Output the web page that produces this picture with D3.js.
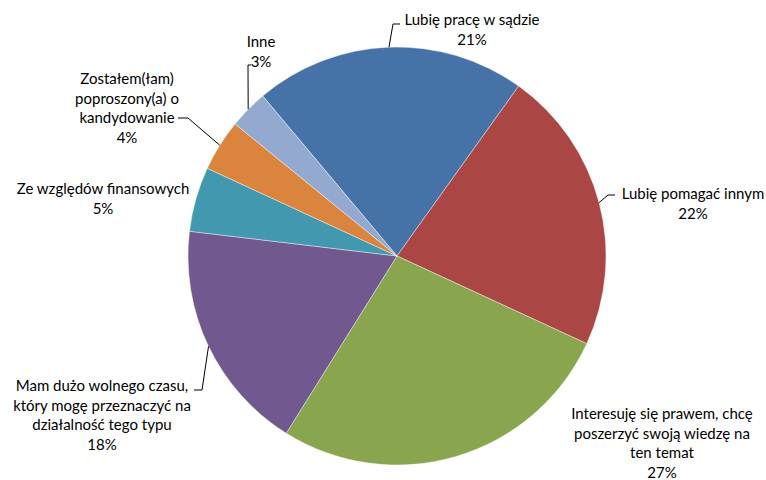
<!DOCTYPE html>
<html>
<head>
<meta charset="utf-8">
<script src="https://cdn.jsdelivr.net/npm/d3@7"></script>
<style>
  html, body { margin: 0; padding: 0; background: #fff; }
  svg text { font-family: Lato, "Open Sans", sans-serif; font-size: 15px; fill: #000; }
</style>
</head>
<body>
<svg id="chart" width="766" height="480"></svg>
<script>
// Reasons for applying — share of answers (%)
const categories = [
  "Lubię pracę w sądzie",
  "Lubię pomagać innym",
  "Interesuję się prawem, chcę poszerzyć swoją wiedzę na ten temat",
  "Mam dużo wolnego czasu, który mogę przeznaczyć na działalność tego typu",
  "Ze względów finansowych",
  "Zostałem(łam) poproszony(a) o kandydowanie",
  "Inne"
];
const values = [21, 22, 27, 18, 5, 4, 3];
const colors = ["#4572A7", "#AA4643", "#89A54E", "#71588F", "#4198AF", "#DB843D", "#93A9CF"];

// Label text broken into lines as they are set on the chart
const labelLines = [
  ["Lubię pracę w sądzie"],
  ["Lubię pomagać innym"],
  ["Interesuję się prawem, chcę", "poszerzyć swoją wiedzę na", "ten temat"],
  ["Mam dużo wolnego czasu,", "który mogę przeznaczyć na", "działalność tego typu"],
  ["Ze względów finansowych"],
  ["Zostałem(łam)", "poproszony(a) o", "kandydowanie"],
  ["Inne"]
];

// Label placement: text centre x, first line y, and optional leader elbow/end
const labelLayout = [
  { x: 472, y: 19,  elbow: [393, 24],  end: [400, 24] },
  { x: 693, y: 193, elbow: [608, 195], end: [615, 195] },
  { x: 662, y: 413 },
  { x: 102, y: 385, elbow: [202, 390], end: [194, 390] },
  { x: 103, y: 188 },
  { x: 127, y: 78,  elbow: [188, 118], end: [178, 118] },
  { x: 261, y: 41,  elbow: [248, 65],  end: [251, 65] }
];

const cx = 397, cy = 256, radius = 209;
const startDeg = -40;
const lineGap = 19.5;

const svg = d3.select("#chart");
const g = svg.append("g").attr("transform", `translate(${cx},${cy})`);

const pie = d3.pie()
  .sort(null)
  .value(d => d)
  .startAngle(startDeg * Math.PI / 180)
  .endAngle((startDeg + 360) * Math.PI / 180);

const arcs = pie(values);
const arc = d3.arc().innerRadius(0).outerRadius(radius);

g.selectAll("path.slice")
  .data(arcs)
  .join("path")
  .attr("class", "slice")
  .attr("d", arc)
  .attr("fill", (d, i) => colors[i])
  .attr("stroke", "#ffffff")
  .attr("stroke-opacity", 0.6)
  .attr("stroke-width", 0.7);

// Leader lines from the slice edge to the label
arcs.forEach((d, i) => {
  const lay = labelLayout[i];
  if (!lay.elbow) return;
  const mid = (d.startAngle + d.endAngle) / 2;
  const p0 = [cx + radius * Math.sin(mid), cy - radius * Math.cos(mid)];
  svg.append("polyline")
    .attr("points", [p0, lay.elbow, lay.end].map(p => p.join(",")).join(" "))
    .attr("fill", "none")
    .attr("stroke", "#000")
    .attr("stroke-width", 1);
});

// Category labels with their percentages
arcs.forEach((d, i) => {
  const lay = labelLayout[i];
  const lines = labelLines[i].concat([values[i] + "%"]);
  const t = svg.append("text")
    .attr("text-anchor", "middle")
    .attr("dominant-baseline", "central");
  lines.forEach((s, k) => {
    t.append("tspan")
      .attr("x", lay.x)
      .attr("y", lay.y + k * lineGap)
      .text(s);
  });
});
</script>
</body>
</html>
